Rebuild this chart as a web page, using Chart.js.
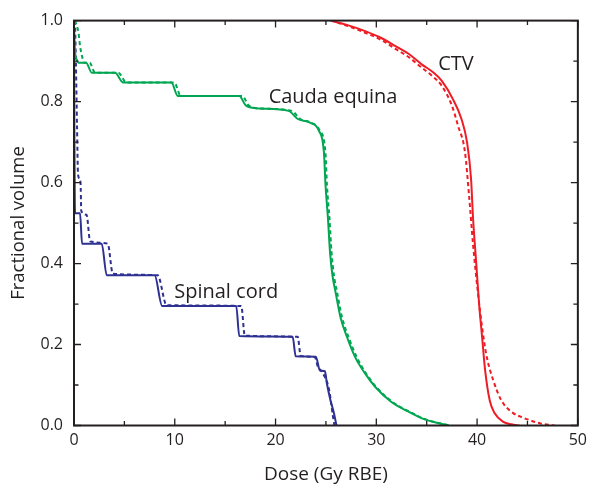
<!DOCTYPE html>
<html>
<head>
<meta charset="utf-8">
<script src="https://cdn.jsdelivr.net/npm/chart.js@4.4.0/dist/chart.umd.min.js"></script>
<style>
  html, body { margin: 0; padding: 0; background: #fff; }
</style>
</head>
<body>
<canvas id="dvh" width="592" height="493"></canvas>
<script>
// Dose-volume histograms: dose in Gy RBE, fractional volume 0..1
// solid = nominal, dashed = comparison curve

const ctvDose = [25.5, 27.0, 28.9, 30.5, 31.9, 33.2, 34.5, 35.6, 36.5, 37.6, 38.45, 39.0, 39.4, 39.6, 39.9, 40.2, 40.5, 40.8, 41.25, 41.75, 42.6, 43.4, 44.2];
const ctvVol = [1.0, 0.990, 0.974, 0.957, 0.937, 0.918, 0.892, 0.873, 0.851, 0.806, 0.757, 0.700, 0.610, 0.512, 0.406, 0.300, 0.218, 0.136, 0.0625, 0.030, 0.009, 0.003, 0.0];
const ctvDashDose = [25.5, 27.0, 28.9, 30.5, 31.9, 33.2, 34.5, 35.6, 36.5, 37.5, 38.1, 38.8, 39.2, 39.6, 40.1, 40.5, 40.9, 41.6, 42.4, 43.4, 44.7, 46.3, 47.7];
const ctvDashVol = [1.0, 0.988, 0.970, 0.952, 0.930, 0.910, 0.884, 0.862, 0.839, 0.790, 0.741, 0.675, 0.569, 0.447, 0.324, 0.242, 0.177, 0.112, 0.0625, 0.034, 0.018, 0.005, 0.0];

const caudaDose = [0, 0.1, 0.25, 0.45, 1.2, 1.77, 4.07, 4.89, 9.66, 10.3, 16.4, 17.07, 18.4, 21.3, 22.2, 23.3, 24.3, 24.8, 24.96, 25.2, 25.4, 25.65, 25.95, 26.45, 27.1, 27.9, 28.9, 29.9, 31.5, 33.2, 34.8, 37.2];
const caudaVol = [0.99, 0.925, 0.905, 0.896, 0.896, 0.871, 0.871, 0.847, 0.847, 0.814, 0.814, 0.790, 0.783, 0.777, 0.757, 0.749, 0.728, 0.675, 0.594, 0.512, 0.43, 0.37, 0.33, 0.267, 0.218, 0.169, 0.128, 0.095, 0.058, 0.034, 0.015, 0.0];
const caudaDashDose = [0.1, 0.45, 0.6, 0.8, 1.0, 1.55, 2.1, 4.4, 5.2, 9.95, 10.6, 16.7, 17.35, 18.6, 21.6, 22.45, 23.4, 24.4, 24.95, 25.1, 25.35, 25.55, 25.8, 26.1, 26.6, 27.25, 28.05, 29.0, 30.0, 31.6, 33.3, 34.9, 37.3];
const caudaDashVol = [1.0, 0.969, 0.937, 0.912, 0.896, 0.896, 0.871, 0.871, 0.847, 0.847, 0.814, 0.814, 0.790, 0.783, 0.777, 0.757, 0.749, 0.728, 0.675, 0.594, 0.512, 0.43, 0.37, 0.33, 0.267, 0.218, 0.169, 0.128, 0.095, 0.058, 0.034, 0.015, 0.0];

const cordDose = [0, 0.04, 0.08, 0.12, 0.6, 0.8, 2.75, 3.25, 8.0, 8.75, 16.1, 16.4, 21.7, 22.0, 24.0, 24.4, 24.9, 25.1, 25.45, 25.8, 26.05];
const cordVol = [1.0, 0.70, 0.55, 0.524, 0.524, 0.449, 0.449, 0.371, 0.371, 0.295, 0.295, 0.221, 0.219, 0.171, 0.170, 0.136, 0.134, 0.103, 0.0625, 0.030, 0.0];
const cordDashDose = [0.1, 0.2, 0.3, 0.4, 0.65, 0.72, 1.25, 1.6, 3.35, 3.85, 8.3, 9.2, 16.6, 16.95, 22.2, 22.5, 23.9, 24.2, 24.6, 25.3, 25.7, 25.85];
const cordDashVol = [1.0, 0.88, 0.74, 0.62, 0.60, 0.53, 0.52, 0.455, 0.449, 0.375, 0.371, 0.297, 0.295, 0.222, 0.219, 0.172, 0.169, 0.145, 0.133, 0.09, 0.022, 0.0];

// curve names, placed in data coordinates
const labelText = ['CTV', 'Cauda equina', 'Spinal cord'];
const labelDose = [37.9, 25.7, 15.1];
const labelVol = [0.891, 0.81, 0.33];

const RED = '#ee1c24', GREEN = '#00a651', BLUE = '#2e3192', INK = '#231f20';

const pts = (xs, ys) => xs.map((x, i) => ({ x: x, y: ys[i] }));

function curve(xs, ys, color, dashed) {
  return {
    data: pts(xs, ys),
    borderColor: color,
    borderWidth: 2,
    borderDash: dashed ? [4, 3] : [],
    pointRadius: 0,
    fill: false,
    cubicInterpolationMode: 'monotone'
  };
}

// box around the plot area with inward ticks on all four sides
const frameTicks = {
  id: 'frameTicks',
  afterDatasetsDraw(chart) {
    const { ctx, chartArea: a, scales: { x, y } } = chart;
    ctx.save();
    ctx.strokeStyle = INK;
    ctx.lineWidth = 1.3;
    ctx.beginPath();
    x.ticks.forEach(t => {
      const px = x.getPixelForValue(t.value);
      const len = t.label ? 7 : 4.5;
      ctx.moveTo(px, a.bottom); ctx.lineTo(px, a.bottom - len);
      ctx.moveTo(px, a.top); ctx.lineTo(px, a.top + len);
    });
    y.ticks.forEach(t => {
      const py = y.getPixelForValue(t.value);
      const len = t.label ? 7 : 4.5;
      ctx.moveTo(a.left, py); ctx.lineTo(a.left + len, py);
      ctx.moveTo(a.right, py); ctx.lineTo(a.right - len, py);
    });
    ctx.stroke();
    ctx.lineWidth = 2;
    ctx.strokeRect(a.left, a.top, a.right - a.left, a.bottom - a.top);
    ctx.restore();
  }
};

const curveNames = {
  id: 'curveNames',
  afterDraw(chart) {
    const { ctx, scales: { x, y } } = chart;
    ctx.save();
    ctx.fillStyle = INK;
    ctx.font = "20px 'Open Sans', sans-serif";
    ctx.textAlign = 'center';
    ctx.textBaseline = 'middle';
    labelText.forEach((t, i) => {
      ctx.fillText(t, x.getPixelForValue(labelDose[i]), y.getPixelForValue(labelVol[i]));
    });
    ctx.restore();
  }
};

Chart.defaults.font.family = "'Open Sans', sans-serif";
Chart.defaults.color = INK;

new Chart(document.getElementById('dvh'), {
  type: 'line',
  data: {
    datasets: [
      curve(ctvDose, ctvVol, RED, false),
      curve(ctvDashDose, ctvDashVol, RED, true),
      curve(caudaDose, caudaVol, GREEN, false),
      curve(caudaDashDose, caudaDashVol, GREEN, true),
      curve(cordDose, cordVol, BLUE, false),
      curve(cordDashDose, cordDashVol, BLUE, true)
    ]
  },
  options: {
    responsive: false,
    animation: false,
    layout: { padding: { top: 17, right: 12, left: 0, bottom: 0 } },
    plugins: { legend: { display: false }, tooltip: { enabled: false } },
    scales: {
      x: {
        type: 'linear',
        min: 0,
        max: 50,
        grid: { display: false, drawTicks: false },
        border: { display: false },
        ticks: {
          stepSize: 5,
          padding: 5,
          font: { size: 16 },
          callback: v => (v % 10 === 0 ? String(v) : '')
        },
        title: {
          display: true,
          text: 'Dose (Gy RBE)',
          font: { size: 19 },
          padding: { bottom: 7 }
        },
        afterFit: s => { s.height = 67.5; }
      },
      y: {
        min: 0,
        max: 1,
        grid: { display: false, drawTicks: false },
        border: { display: false },
        ticks: {
          stepSize: 0.1,
          padding: 11,
          font: { size: 16 },
          callback: v => (Math.round(v * 10) % 2 === 0 ? v.toFixed(1) : '')
        },
        title: {
          display: true,
          text: 'Fractional volume',
          font: { size: 18.5 },
          padding: { top: 8 }
        },
        afterFit: s => { s.width = 74; }
      }
    }
  },
  plugins: [frameTicks, curveNames]
});
</script>
</body>
</html>
